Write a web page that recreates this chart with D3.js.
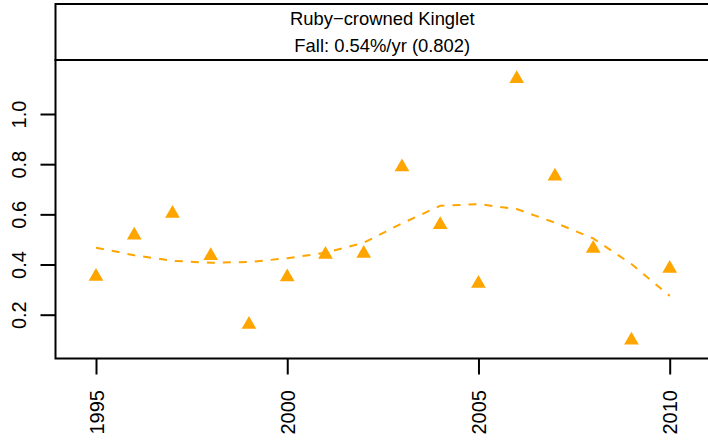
<!DOCTYPE html>
<html>
<head>
<script type="text/javascript" src="https://cdn.jsdelivr.net/npm/d3@7"></script>
<title>Ruby-crowned Kinglet</title>
<style>
  body { margin:0; background:#fff; }
  text { font-family: "Liberation Sans", Arial, sans-serif; }
</style>
</head>
<body>
<div id="chart"></div>
<script type="text/javascript">
var years = [1995,1996,1997,1998,1999,2000,2001,2002,2003,2004,2005,2006,2007,2008,2009,2010];
var counts = [0.352,0.517,0.603,0.435,0.161,0.350,0.440,0.444,0.789,0.559,0.324,1.141,0.752,0.464,0.098,0.384];
var trend = [0.467,0.437,0.415,0.407,0.410,0.425,0.447,0.487,0.564,0.634,0.641,0.621,0.567,0.504,0.402,0.275];
var yTicks = [0.2,0.4,0.6,0.8,1.0];
var xTicks = [1995,2000,2005,2010];
var titleLines = ["Ruby\u2212crowned Kinglet", "Fall: 0.54%/yr (0.802)"];

(function(){
  var w = 708, h = 446;
  var left = 55.5, right = 709, top = 4, strip = 60, bottom = 358.5;
  var fs = 18.4, tfs = 20;

  var svg = d3.select("#chart").append("svg")
      .attr("width", w).attr("height", h);

  var x = d3.scaleLinear().domain([1995, 2010]).range([96, 669.7]);
  var y = d3.scaleLinear().domain([0.2, 1.0]).range([314.7, 114]);

  // header strip
  svg.append("rect")
     .attr("x", left).attr("y", top)
     .attr("width", right-left).attr("height", strip-top)
     .attr("fill", "none").attr("stroke", "black").attr("stroke-width", 2);

  svg.selectAll("text.title")
     .data(titleLines)
     .enter().append("text")
       .attr("class", "title")
       .attr("x", (left+right)/2)
       .attr("y", function(d, i) { return 25 + i*26.5; })
       .attr("text-anchor", "middle")
       .style("font-size", fs+"px")
       .text(function(d) { return d; });

  // plot box
  svg.append("rect")
     .attr("x", left).attr("y", strip)
     .attr("width", right-left).attr("height", bottom-strip)
     .attr("fill", "none").attr("stroke", "black").attr("stroke-width", 2);

  // y axis
  var yAxis = d3.axisLeft(y).tickValues(yTicks).tickSize(15).tickPadding(0)
      .tickFormat(d3.format(".1f"));
  var gy = svg.append("g").attr("transform", "translate(" + left + ",0)").call(yAxis);
  gy.select(".domain").remove();
  gy.selectAll(".tick line").attr("stroke-width", 2);
  gy.selectAll(".tick text")
    .attr("x", null).attr("dy", null)
    .attr("transform", "translate(-29.5,0) rotate(-90)")
    .attr("text-anchor", "middle")
    .style("font-size", tfs+"px")
    .style("font-family", "'Liberation Sans', Arial, sans-serif");

  // x axis
  var xAxis = d3.axisBottom(x).tickValues(xTicks).tickSize(16).tickPadding(0)
      .tickFormat(d3.format("d"));
  var gx = svg.append("g").attr("transform", "translate(0," + bottom + ")").call(xAxis);
  gx.select(".domain").remove();
  gx.selectAll(".tick line").attr("stroke-width", 2);
  gx.selectAll(".tick text")
    .attr("y", null).attr("dy", null)
    .attr("transform", "translate(7,31.5) rotate(-90)")
    .attr("text-anchor", "end")
    .style("font-size", tfs+"px")
    .style("font-family", "'Liberation Sans', Arial, sans-serif");

  // trend line
  var line = d3.line()
      .x(function(d, i) { return x(years[i]); })
      .y(function(d) { return y(d); });

  svg.append("path")
     .datum(trend)
     .attr("d", line)
     .attr("fill", "none")
     .attr("stroke", "orange")
     .attr("stroke-width", 2)
     .attr("stroke-dasharray", "8,8");

  // points (R pch 17)
  var r = 8.5;
  function tri(px, py) {
    var xc = r*Math.sqrt(3)/2, yc = r/2;
    return "M" + px + "," + (py-r) + "L" + (px+xc) + "," + (py+yc) + "L" + (px-xc) + "," + (py+yc) + "Z";
  }
  svg.selectAll("path.pt")
     .data(counts)
     .enter().append("path")
       .attr("class", "pt")
       .attr("d", function(d, i) { return tri(x(years[i]), y(d)); })
       .attr("fill", "orange");
})();
</script>
</body>
</html>
